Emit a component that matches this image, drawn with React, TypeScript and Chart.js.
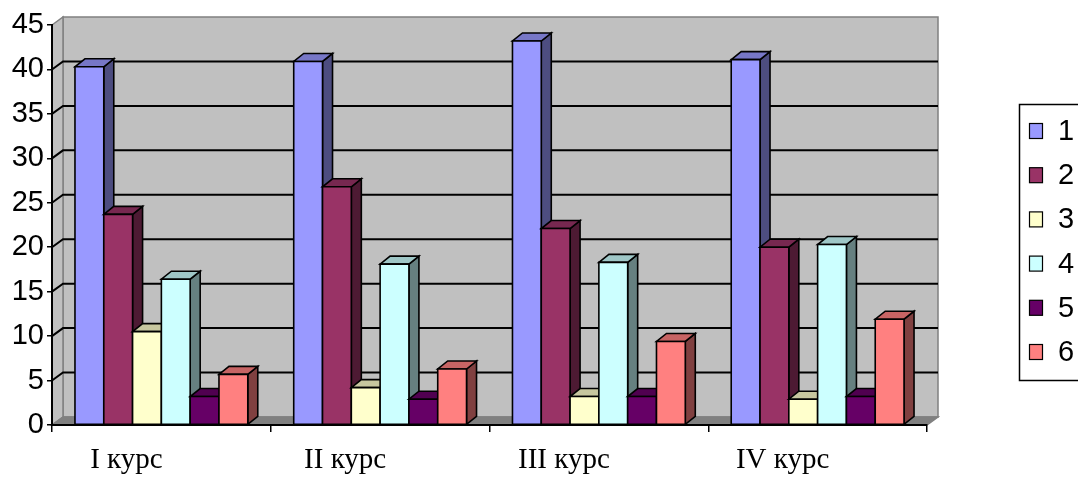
import React, { useEffect, useRef } from "react";
import { Chart, registerables } from "chart.js";

Chart.register(...registerables);

// ---- data ----
const categories = ["I курс", "II курс", "III курс", "IV курс"];
const seriesLabels = ["1", "2", "3", "4", "5", "6"];
const series1 = [40.3, 40.9, 43.2, 41.1];
const series2 = [23.7, 26.8, 22.1, 20.0];
const series3 = [10.5, 4.2, 3.2, 2.9];
const series4 = [16.4, 18.1, 18.3, 20.3];
const series5 = [3.2, 2.9, 3.2, 3.2];
const series6 = [5.7, 6.3, 9.4, 11.9];
const yMin = 0;
const yMax = 45;
const yStep = 5;

// ---- styles ----
const COLORS = ["#9999FF", "#993366", "#FFFFCC", "#CCFFFF", "#660066", "#FF8080"];
const BAR_DX = 10;
const BAR_DY = -8;
const WALL_DX = 11;
const WALL_DY = -8;
const WALL_FILL = "#C0C0C0";
const FLOOR_FILL = "#808080";
const WALL_EDGE = "#808080";

function shade(hex: string, f: number): string {
  const n = parseInt(hex.slice(1), 16);
  const r = Math.round(((n >> 16) & 255) * f);
  const g = Math.round(((n >> 8) & 255) * f);
  const b = Math.round((n & 255) * f);
  return `rgb(${r},${g},${b})`;
}

function poly(ctx: CanvasRenderingContext2D, pts: number[][], fill: string, stroke: string, lw: number) {
  ctx.beginPath();
  ctx.moveTo(pts[0][0], pts[0][1]);
  for (let i = 1; i < pts.length; i++) ctx.lineTo(pts[i][0], pts[i][1]);
  ctx.closePath();
  ctx.fillStyle = fill;
  ctx.fill();
  ctx.lineWidth = lw;
  ctx.strokeStyle = stroke;
  ctx.stroke();
}

const threeDPlugin = {
  id: "threeD",
  beforeDraw(chart: any) {
    const { ctx, chartArea } = chart;
    const { left, right, top, bottom } = chartArea;
    const y = chart.scales.y;
    ctx.save();
    // back wall
    poly(
      ctx,
      [
        [left + WALL_DX, top + WALL_DY],
        [right + WALL_DX, top + WALL_DY],
        [right + WALL_DX, bottom + WALL_DY],
        [left + WALL_DX, bottom + WALL_DY],
      ],
      WALL_FILL,
      WALL_EDGE,
      1.5
    );
    // left wall
    poly(
      ctx,
      [
        [left, top],
        [left + WALL_DX, top + WALL_DY],
        [left + WALL_DX, bottom + WALL_DY],
        [left, bottom],
      ],
      WALL_FILL,
      WALL_EDGE,
      1.5
    );
    // floor
    poly(
      ctx,
      [
        [left, bottom],
        [left + WALL_DX, bottom + WALL_DY],
        [right + WALL_DX, bottom + WALL_DY],
        [right, bottom],
      ],
      FLOOR_FILL,
      WALL_EDGE,
      1.5
    );
    // gridlines
    ctx.strokeStyle = "#000";
    ctx.lineWidth = 2;
    for (const t of y.ticks) {
      if (t.value <= yMin || t.value >= yMax) continue;
      const py = y.getPixelForValue(t.value);
      ctx.beginPath();
      ctx.moveTo(left, py);
      ctx.lineTo(left + WALL_DX, py + WALL_DY);
      ctx.lineTo(right + WALL_DX, py + WALL_DY);
      ctx.stroke();
    }
    ctx.restore();
  },
  beforeDatasetsDraw(chart: any) {
    const { ctx } = chart;
    ctx.save();
    const nCat = chart.data.labels.length;
    const nDs = chart.data.datasets.length;
    for (let i = 0; i < nCat; i++) {
      for (let d = 0; d < nDs; d++) {
        const meta = chart.getDatasetMeta(d);
        const el = meta.data[i];
        if (!el) continue;
        const p = el.getProps(["x", "y", "base", "width"], true);
        const l = p.x - p.width / 2;
        const r = p.x + p.width / 2;
        const color = COLORS[d];
        poly(
          ctx,
          [
            [r, p.y],
            [r + BAR_DX, p.y + BAR_DY],
            [r + BAR_DX, p.base + BAR_DY],
            [r, p.base],
          ],
          shade(color, 0.5),
          "#000",
          1.6
        );
        poly(
          ctx,
          [
            [l, p.y],
            [r, p.y],
            [r + BAR_DX, p.y + BAR_DY],
            [l + BAR_DX, p.y + BAR_DY],
          ],
          shade(color, 0.78),
          "#000",
          1.6
        );
        poly(
          ctx,
          [
            [l, p.y],
            [r, p.y],
            [r, p.base],
            [l, p.base],
          ],
          color,
          "#000",
          1.6
        );
      }
    }
    ctx.restore();
    return false;
  },
  afterDraw(chart: any) {
    const { ctx } = chart;
    ctx.save();
    ctx.strokeStyle = "#000";
    ctx.lineWidth = 1.5;
    ctx.strokeRect(1019.5, 104.5, 100, 276);
    ctx.font = '29px "Liberation Sans", Arial, sans-serif';
    ctx.textBaseline = "middle";
    ctx.textAlign = "left";
    chart.data.datasets.forEach((ds: any, i: number) => {
      const cy = 131 + i * 44.2;
      ctx.fillStyle = COLORS[i];
      ctx.fillRect(1029.5, cy - 7.5, 13, 15);
      ctx.lineWidth = 1.2;
      ctx.strokeStyle = "#000";
      ctx.strokeRect(1029.5, cy - 7.5, 13, 15);
      ctx.fillStyle = "#000";
      ctx.fillText(ds.label, 1058, cy + 1);
    });
    ctx.restore();
  },
};

export default function App() {
  const ref = useRef<HTMLCanvasElement | null>(null);
  useEffect(() => {
    document.body.style.margin = "0";
    if (!ref.current) return;
    const allSeries = [series1, series2, series3, series4, series5, series6];
    const chart = new Chart(ref.current, {
      type: "bar",
      data: {
        labels: categories,
        datasets: allSeries.map((s, i) => ({
          label: seriesLabels[i],
          data: s,
          backgroundColor: COLORS[i],
          borderColor: "#000",
          borderWidth: 1,
          categoryPercentage: 0.79,
          barPercentage: 1,
        })),
      },
      options: {
        responsive: false,
        animation: false,
        devicePixelRatio: 1,
        layout: { padding: { top: 25, right: 151, left: 0, bottom: 0 } },
        plugins: { legend: { display: false }, tooltip: { enabled: false } },
        scales: {
          x: {
            afterFit: (s: any) => {
              s.height = 52;
            },
            grid: {
              offset: true,
              drawOnChartArea: false,
              drawTicks: true,
              tickLength: 7,
              color: "#000",
              lineWidth: 1.5,
            },
            border: { display: true, color: "#000", width: 2 },
            ticks: {
              color: "#000",
              font: { family: '"Liberation Serif", "Times New Roman", serif', size: 29 },
              labelOffset: -35,
              padding: 11,
              maxRotation: 0,
              autoSkip: false,
            },
          },
          y: {
            min: yMin,
            max: yMax,
            afterFit: (s: any) => {
              s.width = 52;
            },
            grid: {
              drawOnChartArea: false,
              drawTicks: true,
              tickLength: 5,
              color: "#000",
              lineWidth: 1.5,
            },
            border: { display: true, color: "#000", width: 2 },
            ticks: {
              stepSize: yStep,
              color: "#000",
              padding: 3,
              font: { family: '"Liberation Sans", Arial, sans-serif', size: 29 },
            },
          },
        },
      },
      plugins: [threeDPlugin],
    });
    return () => chart.destroy();
  }, []);
  return (
    <div style={{ width: 1078, height: 477, background: "#fff" }}>
      <canvas ref={ref} width={1078} height={477} style={{ display: "block" }} />
    </div>
  );
}
